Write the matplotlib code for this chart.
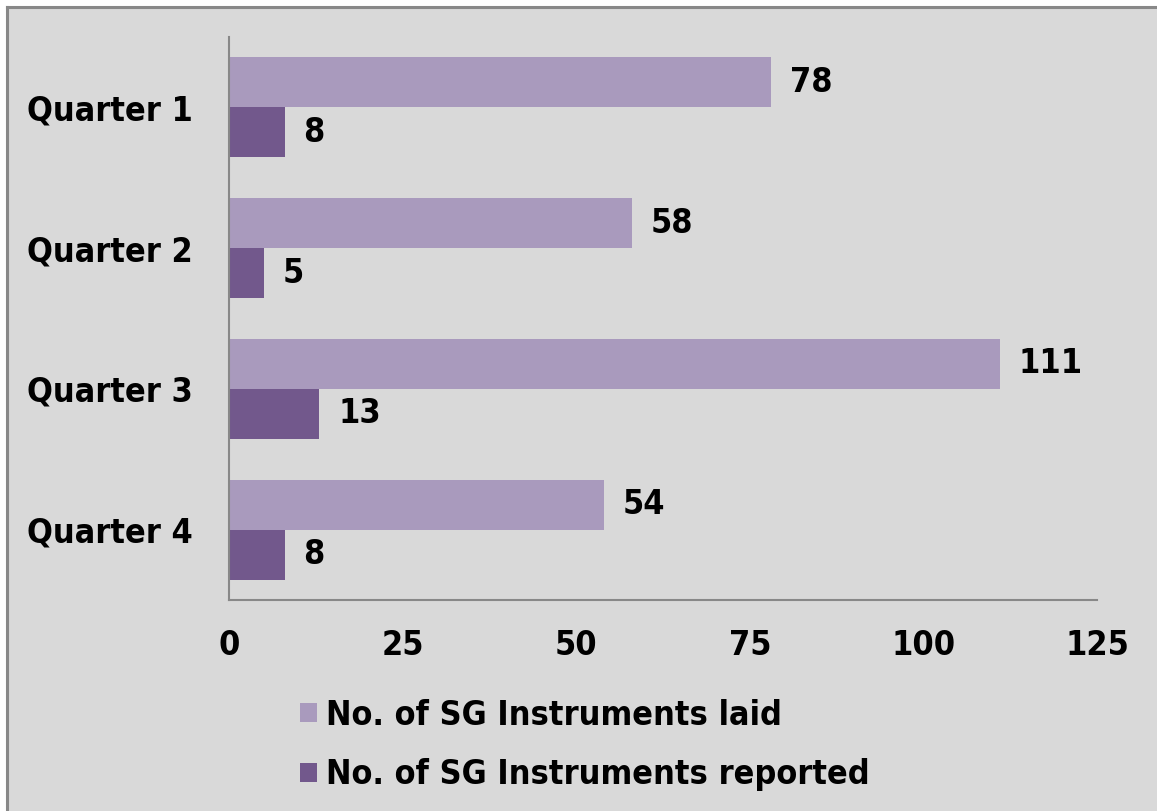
import matplotlib
matplotlib.use("Agg")
import matplotlib.pyplot as plt
import numpy as np
from matplotlib.patches import Rectangle
from matplotlib.lines import Line2D
from matplotlib import font_manager as fm

categories = ["Quarter 1", "Quarter 2", "Quarter 3", "Quarter 4"]
laid = [78, 58, 111, 54]
reported = [8, 5, 13, 8]
series_names = ["No. of SG Instruments laid", "No. of SG Instruments reported"]
xticks = [0, 25, 50, 75, 100, 125]

c_laid = "#A99ABD"
c_rep = "#72588C"
bg = "#D9D9D9"

plt.rcParams['font.family'] = ['DejaVu Sans']
fig = plt.figure(figsize=(11.57, 8.11), dpi=100, facecolor=bg)
W, H = 1157, 811
# white outer margin on left and top
fig.patches.append(Rectangle((0, 0), 7/W, 1, transform=fig.transFigure,
                             facecolor="white", edgecolor="none", zorder=-10))
fig.patches.append(Rectangle((0, 1-7/H), 1, 7/H, transform=fig.transFigure,
                             facecolor="white", edgecolor="none", zorder=-10))
fig.lines.append(Line2D([7/W, 7/W], [0, 1-7/H], transform=fig.transFigure,
                        color="#888888", linewidth=2.2))
fig.lines.append(Line2D([7/W, 1], [1-7/H, 1-7/H], transform=fig.transFigure,
                        color="#888888", linewidth=2.2))

ax = fig.add_axes([229/W, 1-600/H, (1097-229)/W, (600-37)/H])
ax.set_facecolor(bg)

fp = fm.FontProperties(family="DejaVu Sans", weight="bold", stretch="condensed", size=24.5)

y = np.arange(len(categories))
h = 0.355
b1 = ax.barh(y - h/2, laid, height=h, color=c_laid, label=series_names[0])
b2 = ax.barh(y + h/2, reported, height=h, color=c_rep, label=series_names[1])

for rect, v in zip(b1, laid):
    ax.annotate(str(v), (rect.get_width(), rect.get_y() + rect.get_height()/2),
                xytext=(19, 0), textcoords="offset pixels", va="center", ha="left",
                fontproperties=fp)
for rect, v in zip(b2, reported):
    ax.annotate(str(v), (rect.get_width(), rect.get_y() + rect.get_height()/2),
                xytext=(19, 0), textcoords="offset pixels", va="center", ha="left",
                fontproperties=fp)

ax.set_xlim(0, 125)
ax.set_ylim(3.5, -0.5)
ax.set_xticks(xticks)
ax.set_xticklabels([str(t) for t in xticks], fontproperties=fp)
ax.set_yticks(y)
ax.set_yticklabels(categories, fontproperties=fp)
ax.tick_params(axis="both", length=0)
ax.tick_params(axis="x", pad=21)
ax.tick_params(axis="y", pad=26)
for s in ["top", "right"]:
    ax.spines[s].set_visible(False)
for s in ["left", "bottom"]:
    ax.spines[s].set_color("#888888")
    ax.spines[s].set_linewidth(1.5)

leg = fig.legend(handles=[b1, b2], loc="center left", bbox_to_anchor=(300/W, 1-745/H),
                 frameon=False, prop=fp, borderpad=0, borderaxespad=0,
                 handlelength=0.5, handleheight=0.5, handletextpad=0.27, labelspacing=0.79)

fig.savefig("out.png", dpi=100, facecolor=bg)
